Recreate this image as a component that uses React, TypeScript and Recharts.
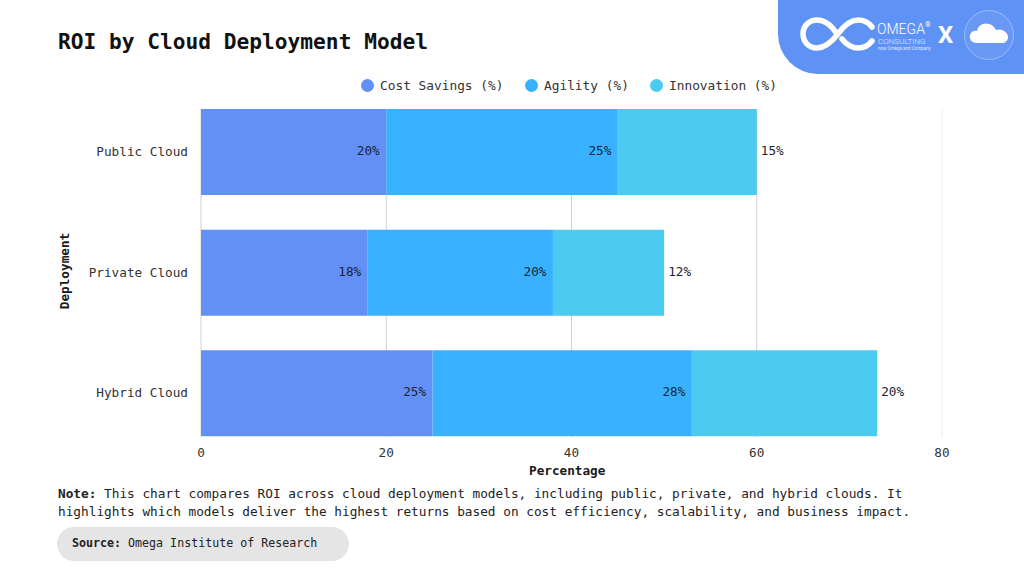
import React from "react";
import { BarChart, Bar, XAxis, YAxis, CartesianGrid, LabelList } from "recharts";

const categories = ["Public Cloud", "Private Cloud", "Hybrid Cloud"];
const costSavings = [20, 18, 25];
const agility = [25, 20, 28];
const innovation = [15, 12, 20];
const xTicks = [0, 20, 40, 60, 80];
const legendItems = [
  { label: "Cost Savings (%)", color: "#6390F5", x: 361 },
  { label: "Agility (%)", color: "#38B2FF", x: 525 },
  { label: "Innovation (%)", color: "#4BCBEF", x: 650 },
];
const data = categories.map((name, i) => ({
  name,
  cost: costSavings[i],
  agility: agility[i],
  innovation: innovation[i],
}));

const MONO = '"DejaVu Sans Mono", monospace';
const SANS = 'Roboto, sans-serif';

const abs = (x: number, y: number): React.CSSProperties => ({
  position: "absolute",
  left: x,
  top: y,
  whiteSpace: "nowrap",
  fontFamily: MONO,
  color: "#1a1a1a",
});

const pct = (v: any) => `${v}%`;

function Inside(props: any) {
  const { x, y, width, height, value } = props;
  return (
    <text x={x + width - 6.5} y={y + height / 2 - 1.5} textAnchor="end" dominantBaseline="central"
      fontFamily={MONO} fontSize={12.7} fill="#1a2433">
      {pct(value)}
    </text>
  );
}
function Outside(props: any) {
  const { x, y, width, height, value } = props;
  return (
    <text x={x + width + 4} y={y + height / 2 - 1.5} textAnchor="start" dominantBaseline="central"
      fontFamily={MONO} fontSize={12.7} fill="#1a2433">
      {pct(value)}
    </text>
  );
}

export default function App() {
  return (
    <div style={{ position: "absolute", left: 0, top: 0, width: 1024, height: 576, background: "#fff", overflow: "hidden" }}>
      <div style={{ ...abs(58, 29), fontSize: 21.2, fontWeight: 700, color: "#111" }}>ROI by Cloud Deployment Model</div>

      <div style={{ position: "absolute", left: 778, top: -50, width: 300, height: 124, background: "#5F92F5", borderRadius: 40 }} />
      <svg style={{ position: "absolute", left: 800, top: 14 }} width="76" height="40" viewBox="0 0 76 40">
        <path d="M37 20 C30 9 24 6 17 6 C9 6 3 12 3 20 C3 28 9 34 17 34 C24 34 30 30 38 20 C45 10 51 6 58 6 C64 6 69 9 72 13 M72 27 C69 31 64 34 58 34 C52 34 46 30 42 25"
          fill="none" stroke="#fff" strokeWidth="5.5" strokeLinecap="round" />
      </svg>
      <div style={{ position: "absolute", left: 877, top: 23, fontFamily: SANS, fontSize: 14, fontWeight: 300, lineHeight: "13px", height: 13, color: "#fff" }}>OMEGA</div>
      <div style={{ position: "absolute", left: 925, top: 21, fontFamily: SANS, fontSize: 7, lineHeight: "8px", height: 8, color: "#fff" }}>®</div>
      <div style={{ position: "absolute", left: 878, top: 37, fontFamily: SANS, fontSize: 8, fontWeight: 300, lineHeight: "9px", height: 9, color: "#dfe9ff" }}>CONSULTING</div>
      <div style={{ position: "absolute", left: 878, top: 46, fontFamily: SANS, fontSize: 4.5, lineHeight: "5px", height: 5, color: "#dfe9ff" }}>now Omega and Company</div>
      <div style={{ position: "absolute", left: 938, top: 21, fontFamily: SANS, fontSize: 24, fontWeight: 700, color: "#fff" }}>X</div>
      <svg style={{ position: "absolute", left: 963, top: 9 }} width="52" height="52" viewBox="0 0 52 52">
        <circle cx="26" cy="26" r="24.5" fill="#6A98F5" stroke="#9dbcf9" strokeWidth="1" />
        <path d="M14 34 C8 34 6 29 7 26 C8 22 12 21 14 22 C15 16 21 13 26 15 C30 16 32 19 33 21 C38 19 45 23 45 28 C45 32 42 34 39 34 Z" fill="#fff" />
      </svg>

      <svg style={{ position: "absolute", left: 0, top: 76 }} width="800" height="20">
        {legendItems.map((it) => (
          <g key={it.label}>
            <circle cx={it.x + 6.5} cy={9.5} r={6.5} fill={it.color} />
            <text x={it.x + 19} y={9} dominantBaseline="central" fontFamily={MONO} fontSize={12.82} fill="#333">{it.label}</text>
          </g>
        ))}
      </svg>

      <div style={{ position: "absolute", left: 0.5, top: 0 }}>
        <BarChart width={1024} height={576} data={data} layout="vertical"
          margin={{ top: 109, right: 83, bottom: 109, left: 100 }}>
          <CartesianGrid horizontal={false} stroke="#d0d0d0" verticalValues={[0, 20, 40, 60]} />
          <CartesianGrid horizontal={false} stroke="#ececec" verticalValues={[80]} />
          <XAxis type="number" domain={[0, 80]} ticks={xTicks} axisLine={false} tickLine={false}
            tick={{ fontFamily: MONO, fontSize: 12.7, fill: "#333" }} tickMargin={5} height={30} />
          <YAxis type="category" dataKey="name" width={100} axisLine={false} tickLine={false}
            padding={{ top: -17, bottom: -17 }}
            tick={{ fontFamily: MONO, fontSize: 12.7, fill: "#333", dy: -1 } as any} tickMargin={7} />
          <Bar dataKey="cost" stackId="a" fill="#6390F5" isAnimationActive={false} barSize={86}>
            <LabelList dataKey="cost" content={Inside} />
          </Bar>
          <Bar dataKey="agility" stackId="a" fill="#38B2FF" isAnimationActive={false} barSize={86}>
            <LabelList dataKey="agility" content={Inside} />
          </Bar>
          <Bar dataKey="innovation" stackId="a" fill="#4BCBEF" isAnimationActive={false} barSize={86}>
            <LabelList dataKey="innovation" content={Outside} />
          </Bar>
        </BarChart>
      </div>

      <div style={{ ...abs(529, 463), fontSize: 12.7, fontWeight: 700 }}>Percentage</div>
      <div style={{ ...abs(64, 271), fontSize: 12.7, fontWeight: 700, transform: "translate(-50%,-50%) rotate(-90deg)" }}>Deployment</div>

      <div style={{ ...abs(58, 485), fontSize: 12.75, lineHeight: "17.5px", color: "#222" }}>
        <b>Note:</b> This chart compares ROI across cloud deployment models, including public, private, and hybrid clouds. It<br />
        highlights which models deliver the highest returns based on cost efficiency, scalability, and business impact.
      </div>

      <div style={{ position: "absolute", left: 57, top: 527, width: 292, height: 34, borderRadius: 17, background: "#E5E5E5" }} />
      <div style={{ ...abs(72, 536), fontSize: 11.65, color: "#222" }}><b>Source:</b> Omega Institute of Research</div>
    </div>
  );
}
